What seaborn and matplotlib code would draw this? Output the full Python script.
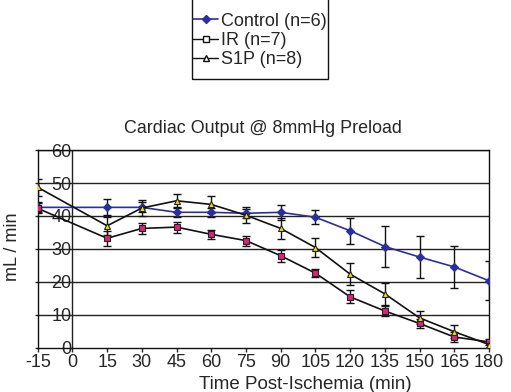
import numpy as np
import pandas as pd
import matplotlib
matplotlib.use("Agg")
import matplotlib.pyplot as plt
from matplotlib.lines import Line2D
from matplotlib.patches import Rectangle
import seaborn as sns

# time points (min post-ischemia)
time = [-15, 15, 30, 45, 60, 75, 90, 105, 120, 135, 150, 165, 180]

# cardiac output means (mL/min) and SEM
control_mean = [42.6, 42.6, 42.6, 41.1, 41.1, 40.8, 41.1, 39.6, 35.5, 30.7, 27.5, 24.5, 20.3]
control_err = [1.5, 2.4, 1.5, 1.3, 1.3, 1.3, 2.2, 2.2, 3.9, 6.2, 6.5, 6.5, 6.0]

ir_mean = [42.3, 33.2, 36.2, 36.6, 34.4, 32.5, 27.9, 22.6, 15.4, 11.1, 7.3, 3.2, 1.7]
ir_err = [1.5, 2.2, 1.8, 1.7, 1.3, 1.5, 1.8, 1.2, 2.0, 1.5, 1.5, 1.5, 1.0]

s1p_mean = [48.7, 37.0, 42.4, 44.6, 43.5, 40.2, 36.2, 30.4, 22.3, 16.3, 9.0, 4.8, 0.9]
s1p_err = [2.5, 2.8, 2.4, 2.0, 2.5, 2.5, 3.3, 3.0, 3.4, 3.3, 2.0, 2.0, 1.0]

labels = ["Control (n=6)", "IR (n=7)", "S1P (n=8)"]
y_ticks = [0, 10, 20, 30, 40, 50, 60]

sns.set_style("white")
plt.rcParams['font.family'] = ['Liberation Sans', 'DejaVu Sans']
plt.rcParams['axes.unicode_minus'] = False

blue = "#2a2f9c"
magenta = "#e0207a"
yellow = "#f2e200"

fig = plt.figure(figsize=(5.11, 3.92), dpi=100)
ax = fig.add_axes([0.0738, 0.1135, 0.8831, 0.5035])

df = pd.DataFrame({
    "time": time * 3,
    "value": control_mean + ir_mean + s1p_mean,
    "err": control_err + ir_err + s1p_err,
    "group": [labels[0]] * 13 + [labels[1]] * 13 + [labels[2]] * 13,
})

# gridlines
for v in y_ticks[1:]:
    ax.axhline(v, color="#222222", lw=1.0, zorder=1)
ax.axvline(0, color="#222222", lw=1.0, zorder=1)

styles = {
    labels[0]: dict(color=blue, marker="D", mfc=blue, mec=blue, ms=4.5),
    labels[1]: dict(color="#111111", marker="s", mfc=magenta, mec="#222222", ms=5),
    labels[2]: dict(color="#111111", marker="^", mfc=yellow, mec="#222222", ms=5),
}

for g in labels:
    d = df[df["group"] == g]
    st = styles[g]
    ax.errorbar(d["time"], d["value"], yerr=d["err"], fmt="none",
                ecolor="#111111", elinewidth=1.0, capsize=3, capthick=1.0, zorder=2)
    sns.lineplot(data=d, x="time", y="value", ax=ax, color=st["color"], lw=1.2,
                 marker=st["marker"], markersize=st["ms"], markerfacecolor=st["mfc"],
                 markeredgecolor=st["mec"], markeredgewidth=0.8, zorder=3, legend=False)

ax.set_xlim(-15, 180)
ax.set_ylim(0, 60)
ax.set_xticks(time[:1] + [0] + time[1:])
ax.set_yticks(y_ticks)
ax.tick_params(axis="x", direction="out", length=3, width=1, pad=2, labelsize=13, bottom=True)
ax.tick_params(axis="y", direction="out", length=2, width=1, pad=-26.5, labelsize=13, left=True)
for s in ax.spines.values():
    s.set_color("#111111")
    s.set_linewidth(1.0)

ax.set_title("Cardiac Output @ 8mmHg Preload", fontsize=12.9, pad=12)
ax.set_xlabel("Time Post-Ischemia (min)", fontsize=13.5)
ax.xaxis.set_label_coords(0.592, -0.145)
ax.set_ylabel("mL / min", fontsize=13)
ax.yaxis.set_label_coords(-0.055, 0.509)
ax.yaxis.label.set_va("center")

handles = [
    Line2D([0], [0], color=blue, marker="D", mfc=blue, mec=blue, ms=4.5, lw=1.2),
    Line2D([0], [0], color="#111111", marker="s", mfc="white", mec="#111111", ms=5, lw=1.0),
    Line2D([0], [0], color="#111111", marker="^", mfc="white", mec="#111111", ms=5, lw=1.0),
]
leg = fig.legend(handles, labels, loc="lower left",
                 bbox_to_anchor=(193 / 511, (392 - 68) / 392),
                 fontsize=13, frameon=False, borderpad=0.0,
                 handlelength=1.4, handletextpad=0.15, labelspacing=0.12,
                 borderaxespad=0)
# legend box runs off the top edge of the figure, as in the original
fig.patches.append(Rectangle((192 / 511, (392 - 79) / 392), 136 / 511, 90 / 392,
                             transform=fig.transFigure, fill=False,
                             edgecolor="#111111", lw=1.0))

fig.savefig("out.png", dpi=100)
